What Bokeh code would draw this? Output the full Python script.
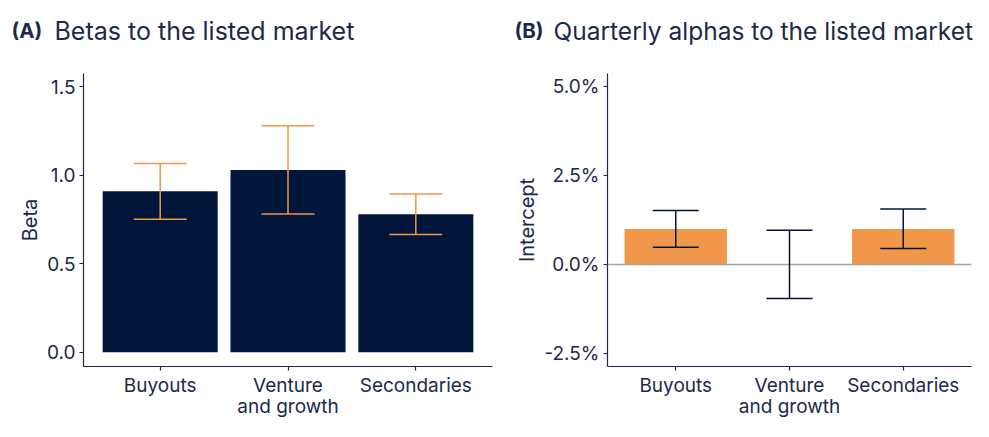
from bokeh.plotting import figure
from bokeh.models import (Range1d, FixedTicker, PrintfTickFormatter, Whisker, TeeHead,
                          ColumnDataSource, Span)
from bokeh.layouts import row, column
from bokeh.core.properties import value
from bokeh.embed import file_html
from bokeh.resources import INLINE

categories = ["Buyouts", "Venture\nand growth", "Secondaries"]
beta = [0.91, 1.03, 0.78]
beta_lower = [0.752, 0.782, 0.666]
beta_upper = [1.066, 1.28, 0.895]
alpha = [1.0, 0.0, 1.0]
alpha_lower = [0.48, -0.96, 0.45]
alpha_upper = [1.52, 0.96, 1.56]
beta_ticks = [0.0, 0.5, 1.0, 1.5]
alpha_ticks = [-2.5, 0.0, 2.5, 5.0]
panel_tags = ["(A)", "(B)"]
panel_titles = ["Betas to the listed market", "Quarterly alphas to the listed market"]

NAVY = "#01163A"
TEXT = "#1B2A4C"
ORANGE = "#F0974A"
GREY = "#A6A6A6"
FONT = "Inter"

xs = list(range(len(categories)))

# Title strip
TW, TH = 973, 50
pt = figure(width=TW, height=TH, x_range=Range1d(0, TW), y_range=Range1d(0, TH),
            output_backend="svg", toolbar_location=None, x_axis_type=None, y_axis_type=None,
            min_border=0)
pt.outline_line_color = None
pt.xgrid.grid_line_color = None
pt.ygrid.grid_line_color = None
tag_x = [11, 514]
title_x = [54, 553]
pt.text(x=tag_x, y=[20, 20], text=panel_tags, text_font=value(FONT), text_font_style="bold",
        text_font_size="20.5px", text_color=TEXT, text_baseline="middle", text_align="left")
pt.text(x=title_x, y=[20, 20], text=panel_titles, text_font=value(FONT),
        text_font_size=["25px", "24.5px"], text_color=TEXT, text_baseline="middle",
        text_align="left")


def style(p, yticks, fmt):
    p.outline_line_color = None
    p.xgrid.grid_line_color = None
    p.ygrid.grid_line_color = None
    for ax in (p.xaxis, p.yaxis):
        ax.axis_line_color = TEXT
        ax.axis_line_width = 1.2
        ax.major_tick_line_color = TEXT
        ax.major_tick_line_width = 1.2
        ax.major_tick_out = 4
        ax.major_tick_in = 0
        ax.minor_tick_line_color = None
        ax.major_label_text_font = FONT
        ax.major_label_text_font_size = "19px"
        ax.major_label_text_color = TEXT
        ax.major_label_standoff = 4
        ax.axis_label_text_font = FONT
        ax.axis_label_text_font_size = "20px"
        ax.axis_label_text_font_style = "normal"
        ax.axis_label_text_color = TEXT
        ax.axis_label_standoff = 2
    p.xaxis.ticker = FixedTicker(ticks=xs)
    p.xaxis.major_label_overrides = {i: c for i, c in zip(xs, categories)}
    p.xaxis.major_label_text_line_height = 0.95
    p.xaxis.major_label_standoff = 3
    p.yaxis.ticker = FixedTicker(ticks=yticks)
    p.yaxis.formatter = PrintfTickFormatter(format=fmt)


PH = 421 - TH
# Panel A
pa = figure(width=505, height=PH, x_range=Range1d(-0.6, 2.6), y_range=Range1d(-0.08, 1.575),
            output_backend="svg", toolbar_location=None,
            min_border_left=83, min_border_right=13, min_border_top=23, min_border_bottom=0)
style(pa, beta_ticks, "%.1f")
pa.yaxis.axis_label = "Beta"
src_a = ColumnDataSource(dict(x=xs, top=beta, lo=beta_lower, hi=beta_upper))
pa.vbar(x="x", top="top", bottom=0, width=0.9, source=src_a, fill_color=NAVY, line_color=None)
wa = Whisker(base="x", lower="lo", upper="hi", source=src_a, line_color=ORANGE, line_width=1.5,
             level="overlay",
             upper_head=TeeHead(size=53, line_color=ORANGE, line_width=1.5),
             lower_head=TeeHead(size=53, line_color=ORANGE, line_width=1.5))
pa.add_layout(wa)

# Panel B
pb = figure(width=468, height=PH, x_range=Range1d(-0.6, 2.6), y_range=Range1d(-2.875, 5.375),
            output_backend="svg", toolbar_location=None,
            min_border_left=102, min_border_right=2, min_border_top=23, min_border_bottom=0)
style(pb, alpha_ticks, "%.1f%%")
pb.yaxis.axis_label = "Intercept"
src_b = ColumnDataSource(dict(x=xs, top=alpha, lo=alpha_lower, hi=alpha_upper))
pb.vbar(x="x", top="top", bottom=0, width=0.9, source=src_b, fill_color=ORANGE, line_color=None)
pb.add_layout(Span(location=0, dimension="width", line_color=GREY, line_width=1.5))
wb = Whisker(base="x", lower="lo", upper="hi", source=src_b, line_color=NAVY, line_width=1.5,
             level="overlay",
             upper_head=TeeHead(size=46, line_color=NAVY, line_width=1.5),
             lower_head=TeeHead(size=46, line_color=NAVY, line_width=1.5))
pb.add_layout(wb)

layout = column(pt, row(pa, pb), spacing=0)
open("out.html", "w").write(file_html(layout, INLINE))
